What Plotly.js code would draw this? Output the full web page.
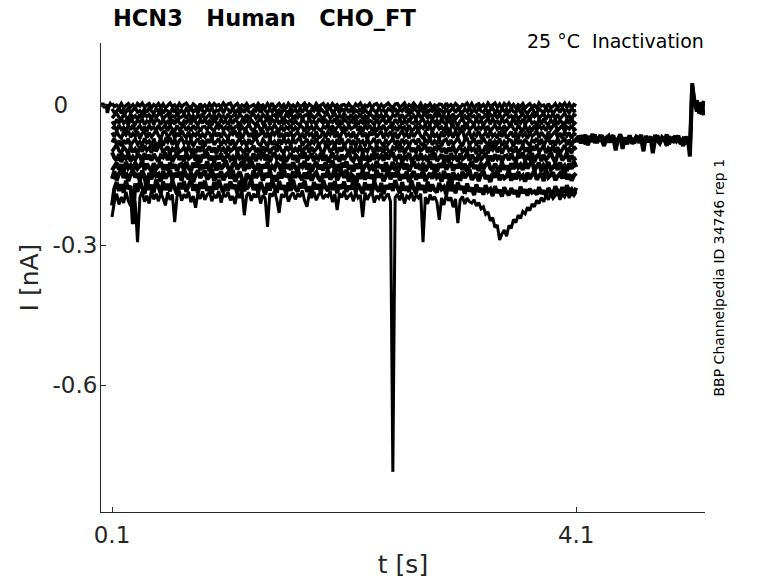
<!DOCTYPE html>
<html>
<head>
<meta charset="utf-8">
<script src="https://cdn.plot.ly/plotly-3.0.1.min.js"></script>
<style>
  html, body { margin: 0; padding: 0; background: #fff; }
  #chart { width: 778px; height: 583px; }
</style>
</head>
<body>
<div id="chart"></div>
<script>
// current in pA, sampled every 0.02 s during the test step (0.1 s .. 4.1 s)
const stepStart = 0.1;
const stepDt = 0.02;

const preT = [0.005, 0.02, 0.035, 0.05, 0.06, 0.07, 0.085, 0.1];
const preI = [-3, 4, -6, 2, -17, -5, 3, -2];

const sweep1 = [
  4, -3, 0, -5, 3, -6, -1, 3, -4, 1,
  -7, 3, -2, 4, -5, 0, 3, -6, 1, -3,
  3, -5, 2, -6, -1, 4, -3, 0, -6, 3,
  -4, 1, 4, -3, -6, 2, -2, -7, 3, -5,
  0, -6, 3, -4, 3, -2, 1, -5, 4, -3,
  2, 4, -6, -1, 3, -6, 0, -3, 3, -5,
  -2, 1, -5, 3, -3, 0, -6, 3, -4, 4,
  -6, -2, 3, -5, 1, -7, 3, -3, 0, -6,
  3, -3, -1, 4, -5, 2, -2, -6, 3, -4,
  0, 3, -5, 1, -6, 3, -3, 1, -6, 0,
  1, -4, 3, -3, -6, 2, -2, 4, -5, 0,
  -3, 3, -6, 1, 3, -5, 1, -4, 0, 4,
  -2, -6, 2, 3, -5, -1, 4, -6, 1, -3,
  4, -2, -5, 3, -6, 0, -3, 3, -6, 0,
  -4, 2, 1, -7, 4, -3, 1, -5, 3, -2,
  -6, 1, -1, 4, -5, 3, -6, 0, 3, -4,
  1, -6, 4, -3, 0, 4, -5, 2, -7, 3,
  -2, 4, -5, 1, -6, 1, -3, 3, -6, -1,
  3, -4, 0, -6, 4, -2, 0, -7, 3, -5,
  -3, 3, -6, 2, -2, 4, -5, 3, -6, 1,
  -2
];
const sweep2 = [
  -8, -16, -14, -5, -18, -9, -15, -7, -16, -11,
  -6, -15, -12, -18, -8, -16, -6, -13, -17, -8,
  -14, -6, -18, -10, -13, -18, -7, -16, -5, -16,
  -11, -18, -8, -14, -6, -15, -9, -17, -6, -12,
  -16, -8, -13, -6, -18, -11, -13, -5, -17, -7,
  -9, -17, -6, -16, -11, -18, -8, -16, -6, -14,
  -18, -10, -13, -7, -16, -6, -12, -17, -8, -15,
  -5, -16, -11, -18, -8, -13, -17, -6, -14, -10,
  -17, -7, -16, -6, -12, -18, -9, -13, -6, -16,
  -8, -14, -18, -10, -6, -16, -11, -5, -17, -8,
  -13, -6, -16, -8, -17, -11, -15, -7, -18, -9,
  -16, -18, -6, -12, -16, -6, -13, -10, -17, -8,
  -11, -15, -7, -17, -9, -13, -6, -16, -8, -18,
  -6, -11, -16, -8, -15, -5, -17, -10, -13, -6,
  -17, -9, -12, -18, -7, -16, -11, -6, -16, -8,
  -13, -17, -8, -14, -6, -16, -10, -15, -6, -13,
  -15, -8, -17, -10, -6, -16, -11, -18, -8, -13,
  -9, -17, -6, -14, -16, -7, -15, -8, -13, -18,
  -11, -6, -16, -17, -8, -12, -18, -6, -14, -9,
  -18, -11, -7, -16, -6, -13, -10, -17, -6, -13,
  -12
];
const sweep3 = [
  -28, -22, -18, -26, -30, -20, -25, -31, -19, -28,
  -23, -30, -20, -28, -19, -25, -21, -29, -18, -27,
  -20, -18, -30, -24, -20, -30, -23, -26, -19, -28,
  -25, -21, -29, -19, -27, -23, -30, -20, -28, -18,
  -30, -25, -20, -28, -21, -31, -19, -26, -23, -30,
  -19, -27, -24, -18, -29, -20, -25, -30, -20, -28,
  -23, -19, -28, -22, -30, -20, -26, -21, -30, -23,
  -21, -28, -19, -26, -30, -20, -25, -18, -28, -23,
  -27, -19, -30, -22, -20, -29, -21, -28, -23, -18,
  -25, -30, -20, -19, -28, -24, -18, -30, -22, -27,
  -18, -25, -29, -20, -30, -23, -26, -19, -30, -23,
  -28, -20, -22, -31, -18, -27, -21, -29, -20, -25,
  -30, -21, -24, -18, -28, -20, -30, -23, -19, -28,
  -22, -30, -18, -26, -23, -18, -29, -20, -31, -20,
  -25, -18, -28, -22, -30, -21, -27, -19, -30, -24,
  -20, -28, -23, -30, -18, -25, -23, -31, -19, -29,
  -27, -19, -30, -20, -25, -18, -28, -20, -30, -22,
  -18, -26, -23, -29, -20, -30, -24, -19, -28, -21,
  -31, -20, -25, -18, -28, -23, -19, -30, -22, -26,
  -19, -29, -20, -30, -24, -18, -27, -23, -30, -20,
  -24
];
const sweep4 = [
  -35, -42, -31, -38, -29, -39, -33, -42, -30, -36,
  -41, -32, -37, -30, -42, -34, -38, -28, -42, -30,
  -33, -42, -30, -40, -35, -43, -31, -41, -29, -38,
  -42, -34, -38, -30, -41, -29, -36, -42, -32, -39,
  -28, -41, -34, -43, -31, -37, -42, -30, -38, -34,
  -42, -30, -40, -29, -36, -42, -33, -38, -30, -41,
  -32, -38, -43, -34, -30, -40, -35, -28, -42, -31,
  -37, -29, -41, -32, -42, -34, -39, -30, -42, -33,
  -40, -43, -30, -36, -41, -29, -38, -34, -42, -31,
  -34, -39, -30, -42, -33, -37, -30, -41, -32, -42,
  -30, -35, -41, -31, -39, -28, -42, -34, -38, -29,
  -42, -33, -36, -42, -30, -40, -34, -29, -41, -32,
  -37, -42, -31, -38, -30, -41, -34, -39, -29, -38,
  -39, -32, -42, -34, -30, -40, -35, -42, -31, -38,
  -33, -42, -29, -38, -41, -30, -39, -32, -37, -43,
  -34, -29, -40, -42, -31, -36, -42, -30, -38, -33,
  -43, -35, -30, -41, -29, -38, -34, -42, -30, -37,
  -32, -40, -38, -28, -42, -33, -39, -30, -41, -34,
  -30, -39, -36, -42, -31, -41, -29, -38, -42, -32,
  -38, -30, -42, -34, -37, -43, -30, -40, -28, -41,
  -36
];
const sweep5 = [
  -51, -46, -55, -43, -52, -48, -55, -44, -53, -43,
  -55, -50, -44, -54, -46, -57, -43, -51, -47, -56,
  -43, -52, -49, -43, -55, -45, -51, -56, -44, -53,
  -48, -43, -54, -47, -55, -44, -51, -46, -56, -47,
  -46, -53, -43, -51, -55, -45, -50, -43, -54, -47,
  -52, -43, -56, -47, -44, -55, -46, -53, -48, -42,
  -51, -56, -45, -43, -54, -49, -43, -55, -47, -52,
  -42, -50, -55, -44, -56, -47, -51, -43, -55, -48,
  -53, -45, -47, -57, -43, -52, -46, -55, -44, -51,
  -55, -46, -49, -43, -54, -44, -56, -47, -43, -53,
  -47, -55, -43, -51, -48, -42, -55, -45, -57, -44,
  -50, -43, -54, -47, -56, -46, -52, -43, -55, -49,
  -44, -53, -48, -55, -43, -51, -47, -57, -43, -55,
  -52, -43, -55, -45, -50, -42, -54, -44, -56, -47,
  -43, -51, -47, -55, -44, -56, -49, -43, -53, -46,
  -57, -44, -51, -42, -54, -48, -43, -55, -47, -51,
  -43, -55, -45, -56, -49, -43, -52, -47, -55, -44,
  -53, -47, -42, -51, -55, -45, -50, -57, -43, -54,
  -48, -56, -44, -53, -43, -51, -46, -55, -43, -52,
  -45, -42, -55, -49, -44, -56, -47, -51, -43, -54,
  -50
];
const sweep6 = [
  -59, -68, -56, -66, -71, -58, -64, -55, -69, -61,
  -67, -56, -72, -60, -57, -70, -59, -68, -62, -54,
  -65, -72, -58, -56, -69, -63, -55, -71, -60, -67,
  -54, -64, -70, -57, -72, -61, -66, -56, -71, -62,
  -68, -58, -60, -73, -55, -67, -59, -70, -57, -65,
  -71, -59, -63, -55, -69, -57, -72, -61, -56, -68,
  -60, -71, -55, -66, -62, -54, -70, -58, -73, -57,
  -64, -55, -69, -60, -72, -59, -67, -56, -71, -63,
  -57, -68, -62, -71, -55, -65, -61, -73, -56, -70,
  -67, -56, -71, -58, -64, -54, -69, -57, -72, -60,
  -55, -66, -61, -70, -57, -72, -63, -56, -68, -59,
  -73, -57, -65, -54, -69, -62, -56, -71, -60, -66,
  -56, -70, -58, -72, -63, -55, -67, -61, -71, -57,
  -68, -60, -54, -66, -71, -58, -64, -73, -56, -69,
  -62, -72, -57, -68, -56, -65, -59, -70, -55, -67,
  -58, -54, -71, -63, -57, -72, -61, -66, -56, -69,
  -65, -59, -70, -56, -67, -62, -71, -57, -68, -55,
  -71, -64, -57, -69, -59, -73, -56, -66, -61, -72,
  -56, -67, -63, -55, -70, -58, -65, -72, -57, -68,
  -62, -56, -69, -60, -71, -57, -66, -59, -72, -61,
  -64
];
const sweep7 = [
  -80, -71, -85, -76, -88, -75, -83, -72, -87, -79,
  -73, -84, -78, -87, -71, -81, -77, -89, -72, -86,
  -83, -72, -87, -74, -80, -70, -85, -73, -88, -76,
  -71, -82, -77, -86, -73, -88, -79, -72, -84, -75,
  -89, -73, -81, -70, -85, -78, -72, -87, -76, -82,
  -72, -86, -74, -88, -79, -71, -83, -77, -87, -73,
  -84, -76, -70, -82, -87, -74, -80, -89, -72, -85,
  -78, -88, -73, -84, -72, -81, -75, -86, -71, -83,
  -74, -70, -87, -79, -73, -88, -77, -82, -72, -85,
  -81, -75, -86, -72, -83, -78, -87, -73, -84, -71,
  -87, -80, -73, -85, -75, -89, -72, -82, -77, -88,
  -72, -83, -79, -71, -86, -74, -81, -88, -73, -84,
  -78, -72, -85, -76, -87, -73, -82, -75, -88, -77,
  -75, -84, -72, -82, -87, -74, -80, -71, -85, -77,
  -83, -72, -88, -76, -73, -86, -75, -84, -78, -70,
  -81, -88, -74, -72, -85, -79, -71, -87, -76, -83,
  -70, -80, -86, -73, -88, -77, -82, -72, -87, -78,
  -84, -74, -76, -89, -71, -83, -75, -86, -73, -81,
  -87, -75, -79, -71, -85, -73, -88, -77, -72, -84,
  -76, -87, -71, -82, -78, -70, -86, -74, -89, -73,
  -80
];
const sweep8 = [
  -100, -92, -85, -98, -103, -90, -96, -105, -88, -101,
  -94, -104, -88, -100, -87, -97, -91, -102, -86, -99,
  -90, -85, -103, -95, -89, -104, -93, -98, -87, -101,
  -97, -91, -102, -88, -99, -94, -103, -89, -100, -86,
  -103, -96, -89, -101, -91, -105, -87, -98, -93, -104,
  -88, -99, -95, -86, -102, -90, -97, -104, -89, -100,
  -94, -87, -101, -92, -103, -89, -98, -91, -104, -93,
  -91, -100, -87, -98, -103, -89, -96, -86, -101, -93,
  -99, -87, -104, -92, -88, -102, -90, -100, -94, -85,
  -97, -105, -89, -87, -101, -95, -86, -103, -91, -99,
  -85, -96, -102, -88, -104, -93, -98, -87, -103, -94,
  -100, -89, -92, -105, -86, -99, -90, -102, -88, -97,
  -103, -91, -95, -86, -101, -88, -104, -93, -87, -100,
  -92, -103, -86, -98, -94, -85, -102, -90, -105, -89,
  -96, -86, -101, -92, -104, -91, -99, -87, -103, -95,
  -88, -100, -94, -103, -86, -97, -93, -105, -87, -102,
  -99, -87, -103, -90, -96, -85, -101, -89, -104, -92,
  -86, -98, -93, -102, -89, -104, -95, -87, -100, -91,
  -105, -88, -97, -85, -101, -94, -87, -103, -92, -98,
  -87, -102, -90, -104, -95, -86, -99, -93, -103, -89,
  -96
];
const sweep9 = [
  -101, -113, -119, -105, -122, -110, -115, -104, -120, -111,
  -117, -106, -109, -123, -103, -116, -107, -119, -105, -114,
  -121, -108, -112, -102, -118, -105, -122, -110, -104, -117,
  -109, -120, -103, -115, -111, -101, -119, -107, -123, -106,
  -113, -102, -118, -109, -122, -108, -116, -104, -120, -112,
  -105, -117, -111, -121, -102, -114, -110, -123, -103, -119,
  -116, -104, -120, -107, -113, -101, -118, -106, -122, -109,
  -102, -115, -110, -119, -106, -121, -112, -103, -117, -108,
  -123, -105, -114, -101, -118, -111, -104, -120, -109, -115,
  -103, -119, -107, -122, -112, -102, -116, -110, -121, -106,
  -117, -109, -101, -115, -120, -107, -113, -123, -104, -118,
  -111, -121, -105, -117, -103, -114, -108, -119, -102, -116,
  -107, -101, -120, -112, -106, -122, -110, -115, -103, -118,
  -114, -108, -119, -104, -116, -111, -121, -105, -117, -102,
  -120, -113, -106, -118, -108, -123, -103, -115, -110, -121,
  -104, -116, -112, -102, -119, -107, -114, -122, -105, -117,
  -111, -103, -118, -109, -120, -106, -115, -108, -121, -110,
  -108, -118, -104, -115, -121, -106, -113, -102, -119, -110,
  -116, -103, -122, -109, -105, -120, -107, -117, -111, -101,
  -114, -123, -106, -103, -118, -112, -102, -121, -108, -116,
  -113
];
const sweep10 = [
  -140, -132, -124, -138, -127, -143, -122, -135, -129, -141,
  -123, -136, -130, -121, -139, -126, -134, -142, -125, -137,
  -131, -122, -138, -128, -140, -124, -135, -127, -141, -129,
  -126, -138, -122, -135, -141, -124, -133, -120, -139, -128,
  -136, -121, -142, -129, -125, -140, -123, -137, -131, -119,
  -134, -143, -127, -122, -138, -130, -121, -141, -126, -136,
  -120, -133, -139, -125, -142, -128, -135, -122, -140, -131,
  -137, -124, -129, -143, -121, -136, -127, -139, -123, -134,
  -141, -126, -132, -120, -138, -125, -142, -130, -122, -137,
  -128, -140, -123, -135, -131, -119, -139, -127, -143, -124,
  -133, -121, -138, -129, -142, -126, -136, -122, -140, -130,
  -125, -137, -131, -141, -120, -134, -128, -143, -123, -139,
  -136, -122, -140, -127, -133, -121, -138, -126, -142, -129,
  -120, -135, -129, -139, -124, -141, -132, -122, -137, -127,
  -143, -125, -134, -121, -138, -130, -123, -140, -128, -135,
  -122, -139, -126, -142, -131, -120, -136, -129, -141, -124,
  -137, -128, -121, -135, -140, -126, -133, -143, -123, -138,
  -130, -141, -125, -137, -122, -134, -128, -139, -121, -136,
  -127, -120, -140, -131, -124, -142, -129, -135, -122, -138,
  -134, -126, -139, -123, -136, -130, -141, -125, -137, -121,
  -133
];
const sweep11 = [
  -158, -142, -161, -147, -138, -156, -144, -163, -149, -139,
  -155, -146, -162, -140, -153, -180, -145, -159, -137, -152,
  -148, -164, -141, -157, -150, -139, -160, -146, -154, -143,
  -162, -138, -151, -158, -144, -165, -149, -140, -156, -147,
  -141, -159, -153, -137, -163, -148, -155, -142, -161, -150,
  -145, -157, -139, -164, -152, -143, -158, -185, -147, -154,
  -160, -140, -156, -149, -138, -162, -146, -155, -141, -159,
  -151, -163, -144, -157, -139, -154, -148, -165, -142, -156,
  -138, -153, -160, -145, -158, -141, -162, -150, -144, -157,
  -163, -147, -155, -140, -159, -152, -137, -161, -149, -143,
  -156, -139, -164, -148, -153, -178, -146, -158, -141, -160,
  -144, -157, -150, -162, -139, -155, -147, -163, -152, -140,
  -159, -145, -154, -138, -161, -149, -157, -143, -165, -151,
  -142, -160, -148, -156, -140, -163, -153, -146, -158, -139,
  -155, -150, -164, -141, -157, -147, -182, -144, -159, -152,
  -162, -143, -156, -149, -138, -160, -154, -145, -163, -148,
  -141, -158, -151, -165, -146, -155, -139, -161, -150, -157,
  -153, -140, -162, -147, -159, -143, -156, -151, -164, -145,
  -158, -149, -141, -160, -152, -146, -163, -139, -155, -150,
  -144, -161, -153, -147, -157, -140, -159, -148, -162, -151,
  -146
];
const sweep12 = [
  -215, -178, -165, -184, -170, -188, -162, -180, -173, -255,
  -168, -186, -163, -177, -190, -166, -181, -171, -187, -160,
  -175, -189, -164, -182, -169, -185, -161, -178, -191, -167,
  -180, -163, -186, -172, -159, -183, -170, -188, -165, -179,
  -162, -184, -174, -190, -166, -181, -160, -176, -187, -169,
  -183, -164, -179, -171, -189, -162, -185, -168, -180, -173,
  -159, -182, -170, -187, -165, -178, -192, -167, -183, -161,
  -176, -188, -163, -181, -172, -190, -166, -184, -160, -179,
  -185, -168, -178, -162, -186, -174, -191, -165, -180, -170,
  -188, -161, -177, -184, -167, -182, -163, -189, -171, -179,
  -164, -186, -173, -181, -160, -187, -169, -178, -190, -166,
  -182, -170, -188, -163, -179, -185, -167, -191, -172, -180,
  -168, -184, -161, -177, -189, -165, -183, -174, -186, -162,
  -179, -190, -166, -181, -172, -188, -164, -185, -170, -182,
  -187, -167, -180, -175, -192, -163, -184, -171, -189, -166,
  -181, -174, -190, -168, -185, -177, -193, -170, -186, -178,
  -192, -172, -185, -180, -195, -174, -188, -182, -196, -176,
  -187, -193, -178, -190, -183, -197, -175, -189, -181, -194,
  -179, -188, -185, -192, -176, -190, -183, -195, -178, -186,
  -191, -174, -184, -189, -176, -187, -172, -185, -180, -190,
  -177
];
const sweep13 = [
  -240, -208, -190, -213, -197, -210, -186, -205, -216, -193,
  -209, -294, -198, -185, -207, -194, -211, -183, -202, -190,
  -206, -188, -200, -215, -187, -203, -192, -251, -196, -184,
  -205, -191, -199, -186, -208, -195, -220, -189, -201, -185,
  -203, -192, -187, -206, -193, -199, -184, -209, -190, -197,
  -186, -204, -195, -212, -188, -199, -183, -236, -194, -187,
  -205, -190, -198, -185, -211, -193, -200, -261, -189, -196,
  -184, -203, -231, -191, -198, -186, -207, -194, -188, -202,
  -190, -197, -183, -205, -218, -189, -199, -186, -204, -192,
  -187, -201, -193, -196, -185, -208, -191, -225, -189, -198,
  -184, -202, -195, -190, -206, -187, -199, -193, -240, -188,
  -203, -192, -186, -209, -194, -200, -188, -205, -196, -190,
  -207, -786, -198, -191, -204, -189, -211, -195, -200, -187,
  -206, -193, -199, -190, -294, -197, -212, -192, -203, -196,
  -208, -246, -199, -214, -193, -205, -198, -219, -201, -253,
  -204, -196, -212, -199, -207, -210, -203, -216, -209, -222,
  -218, -234, -229, -248, -241, -262, -257, -289, -276, -268,
  -281, -258, -264, -245, -252, -236, -243, -228, -233, -219,
  -226, -212, -218, -204, -211, -198, -207, -193, -203, -189,
  -200, -194, -186, -203, -191, -197, -185, -199, -188, -194,
  -186
];

// after the step every sweep sits at the same holding current
const tailStart = 4.1;
const tailA = [
  -68, -79, -65, -76, -83, -67, -74, -62, -81, -70,
  -77, -64, -85, -71, -66, -80, -69, -97, -73, -63,
  -78, -70, -84, -66, -75, -82, -68, -72, -64, -86,
  -71, -79, -67, -103, -74, -65, -81, -70, -77, -63,
  -84, -69, -76, -66, -80, -72, -88, -68, -75, -92,
  47, -4, 10, -18, 6, -22
];
const tailB = [
  -77, -66, -82, -70, -64, -86, -72, -78, -63, -81,
  -69, -75, -88, -67, -80, -71, -65, -84, -73, -68,
  -94, -70, -79, -65, -83, -74, -67, -81, -72, -99,
  -66, -78, -70, -85, -64, -76, -82, -69, -74, -87,
  -67, -80, -71, -77, -65, -84, -73, -79, -68, -110,
  40, 8, -14, 3, -20, 9
];

const sweeps = [sweep1, sweep2, sweep3, sweep4, sweep5, sweep6, sweep7,
  sweep8, sweep9, sweep10, sweep11, sweep12, sweep13];
// stroke widths: the sweeps read as one solid noisy band in the recording
const sweepWidths = [3.4, 3.4, 3.4, 3.4, 3.4, 3.4, 3.4, 3.6, 4, 4.2, 4.2, 4, 3];

const FONT = "DejaVu Sans";
const INK = "#262626";
const NBSP = "\u00a0";
const toNA = (v) => v / 1000;

// simplify off, otherwise plotly smooths the noise away
const line = (w) => ({ color: "#000", width: w, simplify: false });
const traces = [];

traces.push({
  x: preT,
  y: preI.map(toNA),
  type: "scatter",
  mode: "lines",
  line: line(3.4),
});

sweeps.forEach((s, i) => {
  traces.push({
    x0: stepStart,
    dx: stepDt,
    y: s.map(toNA),
    type: "scatter",
    mode: "lines",
    line: line(sweepWidths[i]),
  });
});

[tailA, tailB].forEach((s) => {
  traces.push({
    x0: tailStart,
    dx: stepDt,
    y: s.map(toNA),
    type: "scatter",
    mode: "lines",
    line: line(4),
  });
});

traces.forEach((t) => {
  t.hoverinfo = "skip";
  t.showlegend = false;
});

const layout = {
  width: 778,
  height: 583,
  paper_bgcolor: "#fff",
  plot_bgcolor: "#fff",
  margin: { l: 101, r: 73, t: 43, b: 71 },
  font: { family: FONT, color: INK },
  title: {
    text: "<b>HCN3" + NBSP.repeat(3) + "Human" + NBSP.repeat(3) + "CHO_FT</b>",
    font: { family: FONT, size: 22.5, color: "#000" },
    xref: "container",
    yref: "container",
    x: 113 / 778,
    xanchor: "left",
    y: 1 - 18 / 583,
    yanchor: "middle",
  },
  xaxis: {
    range: [0.005, 5.21],
    showline: true,
    linecolor: INK,
    linewidth: 1,
    mirror: false,
    showgrid: false,
    zeroline: false,
    ticks: "inside",
    ticklen: 5,
    tickcolor: INK,
    tickvals: [0.1, 4.1],
    ticktext: ["0.1", "4.1"],
    tickfont: { family: FONT, size: 23, color: INK },
    ticklabelstandoff: 2,
    title: {
      text: "t [s]",
      font: { family: FONT, size: 25, color: INK },
      standoff: 8,
    },
  },
  yaxis: {
    range: [-0.872, 0.133],
    showline: true,
    linecolor: INK,
    linewidth: 1,
    mirror: false,
    showgrid: false,
    zeroline: false,
    ticks: "inside",
    ticklen: 5,
    tickcolor: INK,
    tickvals: [-0.6, -0.3, 0],
    ticktext: ["-0.6", "-0.3", "0" + NBSP.repeat(4)],
    tickfont: { family: FONT, size: 23, color: INK },
    ticklabelstandoff: -2,
    title: {
      text: "I [nA]",
      font: { family: FONT, size: 25, color: INK },
      standoff: 6,
    },
  },
  annotations: [
    {
      text: "25 °C" + NBSP + NBSP + "Inactivation",
      xref: "paper",
      yref: "paper",
      x: (706 - 101) / 604,
      y: (512 - 41) / 469,
      xanchor: "right",
      yanchor: "middle",
      showarrow: false,
      font: { family: FONT, size: 19, color: "#000" },
    },
    {
      text: "BBP Channelpedia ID 34746 rep 1",
      xref: "paper",
      yref: "paper",
      x: (718 - 101) / 604,
      y: 0.5,
      xanchor: "center",
      yanchor: "middle",
      textangle: -90,
      showarrow: false,
      font: { family: FONT, size: 14, color: "#000" },
    },
  ],
};

Plotly.newPlot("chart", traces, layout, { displayModeBar: false, staticPlot: true });
</script>
</body>
</html>
